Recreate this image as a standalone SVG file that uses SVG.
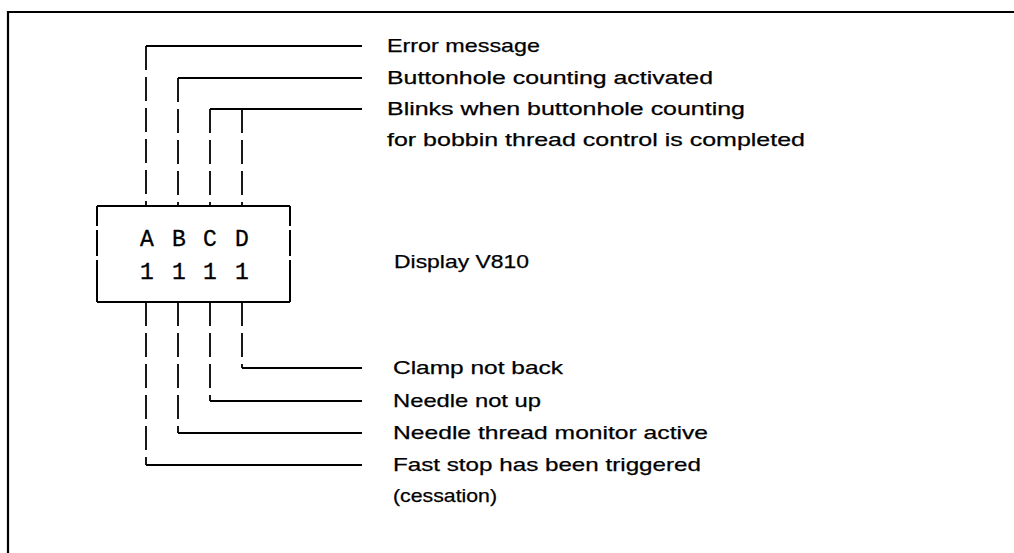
<svg xmlns="http://www.w3.org/2000/svg" width="1014" height="553" viewBox="0 0 1014 553">
<style>
.frame{fill:none;stroke:#000;stroke-width:2.2}
.h{fill:none;stroke:#000;stroke-width:2}
.v{fill:none;stroke:#000;stroke-width:1.8;stroke-dasharray:24 7}
.box{fill:none;stroke:#000;stroke-width:2}
.lbl{font-family:"Liberation Sans",Arial,sans-serif;font-size:19px;fill:#000;stroke:#000;stroke-width:0.25}
.mono{font-family:"Liberation Mono","Courier New",monospace;font-size:23px;fill:#000;stroke:#000;stroke-width:0.3;text-anchor:middle}
</style>
<rect width="1014" height="553" fill="#fff"/>
<g id="frame">
<path class="frame" d="M8,553 V12 H1014"/>
</g>
<g id="display">
<path class="box" d="M97,206 H290"/>
<path class="box" d="M97,302 H290"/>
<path class="box" d="M97,206 V302" stroke-dasharray="20 4 26 4 60"/>
<path class="box" d="M290,206 V302" stroke-dasharray="20 4 26 4 60"/>
<text class="mono" x="147" y="246">A</text>
<text class="mono" x="179" y="246">B</text>
<text class="mono" x="210" y="246">C</text>
<text class="mono" x="242" y="246">D</text>
<text class="mono" x="147" y="279">1</text>
<text class="mono" x="179" y="279">1</text>
<text class="mono" x="210" y="279">1</text>
<text class="mono" x="242" y="279">1</text>
<text class="lbl" x="394" y="268" textLength="135" lengthAdjust="spacingAndGlyphs">Display V810</text>
</g>
<g id="connectors">
<path class="h" d="M146,46 H362"/>
<path class="h" d="M178,78 H362"/>
<path class="h" d="M210,109 H362"/>
<path class="v" d="M146,46 V206"/>
<path class="v" d="M178,78 V206"/>
<path class="v" d="M210,109 V206"/>
<path class="v" d="M242,109 V206"/>
<path class="v" d="M146,302 V465"/>
<path class="v" d="M178,302 V433"/>
<path class="v" d="M210,302 V401"/>
<path class="v" d="M242,302 V368"/>
<path class="h" d="M242,368 H362"/>
<path class="h" d="M210,401 H362"/>
<path class="h" d="M178,433 H362"/>
<path class="h" d="M146,465 H362"/>
</g>
<g id="labels-top">
<text class="lbl" x="387" y="52" textLength="153" lengthAdjust="spacingAndGlyphs">Error message</text>
<text class="lbl" x="387" y="84" textLength="326" lengthAdjust="spacingAndGlyphs">Buttonhole counting activated</text>
<text class="lbl" x="387" y="115" textLength="358" lengthAdjust="spacingAndGlyphs">Blinks when buttonhole counting</text>
<text class="lbl" x="387" y="146" textLength="418" lengthAdjust="spacingAndGlyphs">for bobbin thread control is completed</text>
</g>
<g id="labels-bottom">
<text class="lbl" x="393" y="374" textLength="170" lengthAdjust="spacingAndGlyphs">Clamp not back</text>
<text class="lbl" x="393" y="407" textLength="148" lengthAdjust="spacingAndGlyphs">Needle not up</text>
<text class="lbl" x="393" y="439" textLength="315" lengthAdjust="spacingAndGlyphs">Needle thread monitor active</text>
<text class="lbl" x="393" y="471" textLength="308" lengthAdjust="spacingAndGlyphs">Fast stop has been triggered</text>
<text class="lbl" x="393" y="502" textLength="104" lengthAdjust="spacingAndGlyphs">(cessation)</text>
</g>
</svg>
